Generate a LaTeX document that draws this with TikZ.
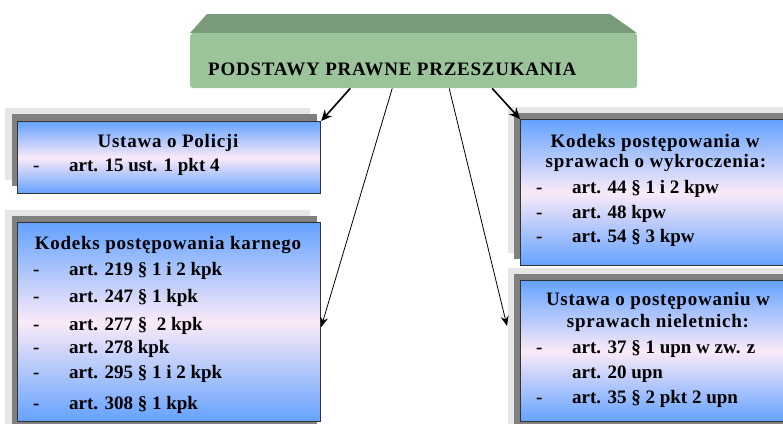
\documentclass[tikz,border=0pt]{standalone}
\usepackage{fontspec}
\setmainfont{Liberation Serif}
\usetikzlibrary{arrows.meta,calc}
\definecolor{gfront}{RGB}{155,196,155}
\definecolor{gtop}{RGB}{122,155,122}
\definecolor{bblue}{RGB}{100,162,255}
\definecolor{bpink}{RGB}{250,234,248}
\definecolor{shdark}{RGB}{128,128,128}
\definecolor{shlight}{RGB}{230,230,230}
\begin{document}
\begin{tikzpicture}[x=1pt,y=-1pt,
  txt/.style={font=\fontsize{19}{22}\selectfont\bfseries, inner sep=0pt, anchor=base west},
  ctxt/.style={font=\fontsize{19}{22}\selectfont\bfseries\addfontfeature{LetterSpace=4}, inner sep=0pt, anchor=base},
  ltxt/.style={ctxt, anchor=base west},
  bluebox/.style={draw=black!80, line width=1.2pt, top color=bblue, bottom color=bblue, middle color=bpink, inner sep=0pt, anchor=north west},
  bigarrow/.style={line width=1.6pt, -{Stealth[length=11pt,width=10pt]}},
  thinarrow/.style={line width=0.8pt, -{Stealth[length=10pt,width=8pt]}}]
\useasboundingbox (0,0) rectangle (783,423);
\clip (0,0) rectangle (783,423);
% green title box
\fill[gtop] (190,33) -- (207,14) -- (610,14) -- (637,33) -- cycle;
\node[fill=gfront, minimum width=447pt, minimum height=55pt, anchor=north west, rounded corners=3pt, inner sep=0pt] (g) at (190,33) {};
\node[ltxt] (gt) at (208,75) {PODSTAWY PRAWNE PRZESZUKANIA};
% box 1
\fill[shlight] (5,108) rectangle +(305,72);
\fill[shdark] (12,114) rectangle +(305,72);
\node[bluebox, minimum width=303pt, minimum height=72pt] (b1) at (17,121) {};
% box 2
\fill[shlight] (5,210) rectangle +(305,220);
\fill[shdark] (12,216) rectangle +(305,220);
\node[bluebox, minimum width=303pt, minimum height=199pt] (b2) at (17,222) {};
% box 3
\fill[shlight] (508,107) rectangle +(290,146);
\fill[shdark] (514,113) rectangle +(290,146);
\node[bluebox, minimum width=280pt, minimum height=146pt] (b3) at (520,119) {};
% box 4
\fill[shlight] (508,268) rectangle +(290,160);
\fill[shdark] (514,274) rectangle +(290,160);
\node[bluebox, minimum width=280pt, minimum height=141pt] (b4) at (520,280) {};
% box 1 text
\node[ctxt] (t1a) at (168,147) {Ustawa o Policji};
\node[txt] (d1a) at (33,171) {-};
\node[txt] (t1b) at (69,171) {art. 15 ust. 1 pkt 4};
% box 2 text
\node[ctxt] (t2a) at (168,249) {Kodeks postępowania karnego};
\node[txt] (d2a) at (33,275) {-};
\node[txt] (t2b) at (69,275) {art. 219 § 1 i 2 kpk};
\node[txt] (d2b) at (33,302) {-};
\node[txt] (t2c) at (69,302) {art. 247 § 1 kpk};
\node[txt] (d2c) at (33,330) {-};
\node[txt] (t2d) at (69,330) {art. 277 §~ 2 kpk};
\node[txt] (d2d) at (33,353) {-};
\node[txt] (t2e) at (69,353) {art. 278 kpk};
\node[txt] (d2e) at (33,378) {-};
\node[txt] (t2f) at (69,378) {art. 295 § 1 i 2 kpk};
\node[txt] (d2f) at (33,409) {-};
\node[txt] (t2g) at (69,409) {art. 308 § 1 kpk};
% box 3 text
\node[ctxt] (t3a) at (655,147) {Kodeks postępowania w};
\node[ctxt] (t3b) at (656,167) {sprawach o wykroczenia:};
\node[txt] (d3a) at (536,193) {-};
\node[txt] (t3c) at (572,193) {art. 44 § 1 i 2 kpw};
\node[txt] (d3b) at (536,218) {-};
\node[txt] (t3d) at (572,218) {art. 48 kpw};
\node[txt] (d3c) at (536,242) {-};
\node[txt] (t3e) at (572,242) {art. 54 § 3 kpw};
% box 4 text
\node[ctxt] (t4a) at (658,305) {Ustawa o postępowaniu w};
\node[ctxt] (t4b) at (658,327) {sprawach nieletnich:};
\node[txt] (d4a) at (536,353) {-};
\node[txt] (t4c) at (572,353) {art. 37 § 1 upn w zw. z};
\node[txt] (t4d) at (572,378) {art. 20 upn};
\node[txt] (d4b) at (536,403) {-};
\node[txt] (t4e) at (572,403) {art. 35 § 2 pkt 2 upn};
% arrows
\draw[bigarrow] ([xshift=-63.5pt]g.south) -- (b1.north east);
\draw[thinarrow] ([xshift=-21.5pt]g.south) -- ($(b2.north east)+(0,105)$);
\draw[thinarrow] ([xshift=35.5pt]g.south) -- ($(b4.north west)+(-13,46)$);
\draw[bigarrow] ([xshift=78.5pt]g.south) -- (b3.north west);
\end{tikzpicture}
\end{document}
